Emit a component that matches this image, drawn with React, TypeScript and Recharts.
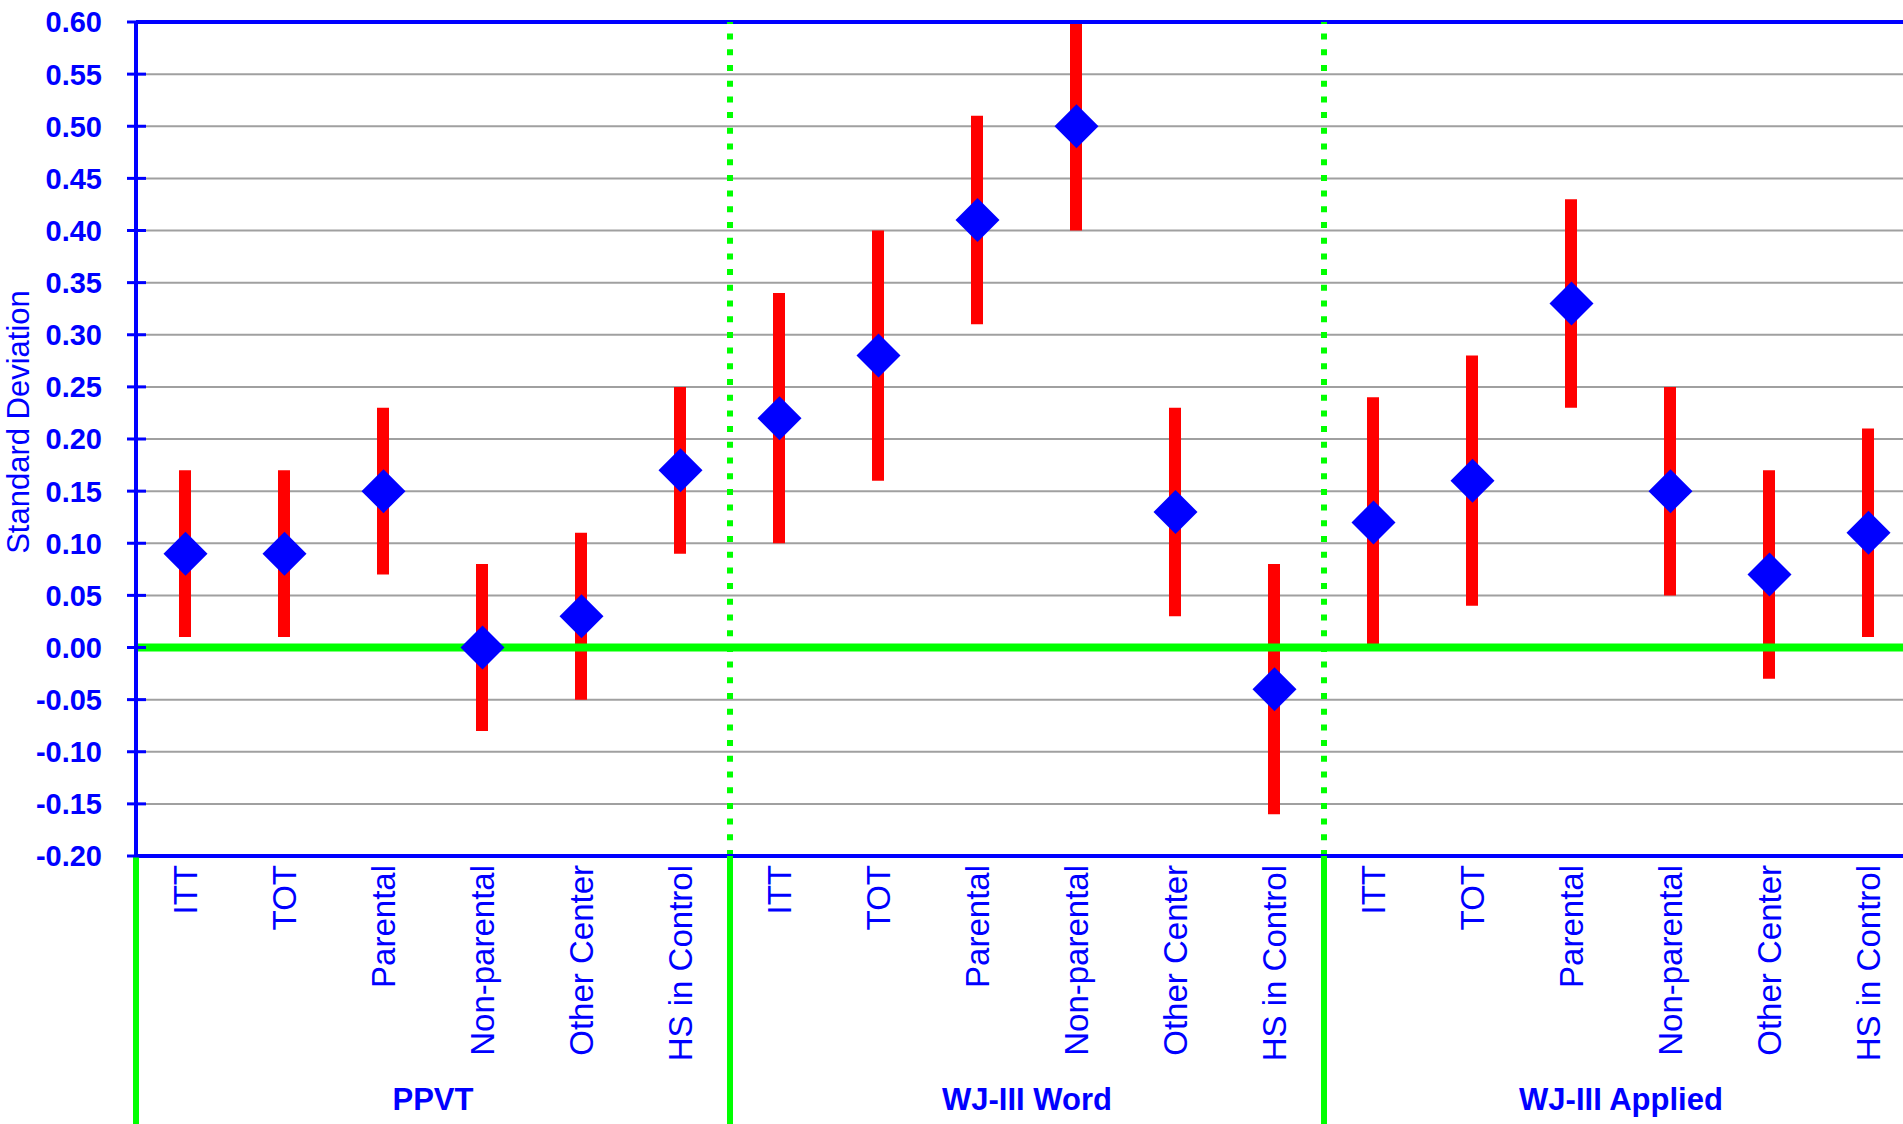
import { ComposedChart, Bar, Scatter, XAxis, YAxis, CartesianGrid, ReferenceLine } from 'recharts';

const BLUE = '#0000ff';
const RED = '#ff0000';
const GREEN = '#00ff00';
const GRID = '#a0a0a0';

const groups = ['PPVT', 'WJ-III Word', 'WJ-III Applied'];
const subgroups = ['ITT', 'TOT', 'Parental', 'Non-parental', 'Other Center', 'HS in Control'];

// effect size (point) and confidence interval per subgroup
const ppvtMean = [0.09, 0.09, 0.15, 0.0, 0.03, 0.17];
const ppvtLow = [0.01, 0.01, 0.07, -0.08, -0.05, 0.09];
const ppvtHigh = [0.17, 0.17, 0.23, 0.08, 0.11, 0.25];

const wordMean = [0.22, 0.28, 0.41, 0.5, 0.13, -0.04];
const wordLow = [0.1, 0.16, 0.31, 0.4, 0.03, -0.16];
const wordHigh = [0.34, 0.4, 0.51, 0.6, 0.23, 0.08];

const appliedMean = [0.12, 0.16, 0.33, 0.15, 0.07, 0.11];
const appliedLow = [0.0, 0.04, 0.23, 0.05, -0.03, 0.01];
const appliedHigh = [0.24, 0.28, 0.43, 0.25, 0.17, 0.21];

const yTicks = [-0.2, -0.15, -0.1, -0.05, 0, 0.05, 0.1, 0.15, 0.2, 0.25, 0.3, 0.35, 0.4, 0.45, 0.5, 0.55, 0.6];

const means = [ppvtMean, wordMean, appliedMean];
const lows = [ppvtLow, wordLow, appliedLow];
const highs = [ppvtHigh, wordHigh, appliedHigh];

const n = subgroups.length;
const total = groups.length * n;

const data = groups.flatMap((g, gi) =>
  subgroups.map((s, si) => ({
    pos: gi * n + si + 0.5,
    group: g,
    label: s,
    mean: means[gi][si],
    range: [lows[gi][si], highs[gi][si]],
  })),
);

// boundaries, group centres and category centres all go through the x scale
const xTicks = [
  ...groups.map((_, gi) => gi * n),
  total,
  ...groups.map((_, gi) => gi * n + n / 2),
  ...data.map(d => d.pos),
];

// eslint-disable-next-line @typescript-eslint/no-explicit-any
function XTick({ x, y, payload }: any) {
  const v = payload.value as number;
  if (v % n === 0) {
    return <line x1={x} y1={y} x2={x} y2={y + 280} stroke={GREEN} strokeWidth={6} />;
  }
  if (Number.isInteger(v)) {
    const g = groups[Math.floor(v / n)];
    return (
      <text x={x} y={y + 254} textAnchor="middle" fill={BLUE} fontSize={31} fontWeight="bold">
        {g}
      </text>
    );
  }
  const label = subgroups[Math.floor(v) % n];
  return (
    <text
      x={x}
      y={y + 9}
      dy="0.36em"
      transform={`rotate(-90 ${x} ${y + 9})`}
      textAnchor="end"
      fill={BLUE}
      fontSize={33}
    >
      {label}
    </text>
  );
}

// eslint-disable-next-line @typescript-eslint/no-explicit-any
function YTick({ x, y, payload }: any) {
  return (
    <g>
      <line x1={x - 9} y1={y} x2={x + 10} y2={y} stroke={BLUE} strokeWidth={3} />
      <text x={x - 34} y={y} dy="0.36em" textAnchor="end" fill={BLUE} fontSize={29} fontWeight="bold">
        {(payload.value as number).toFixed(2)}
      </text>
    </g>
  );
}

// eslint-disable-next-line @typescript-eslint/no-explicit-any
function YTitle({ viewBox }: any) {
  const x = (viewBox?.x ?? 0) + 18;
  const y = 422;
  return (
    <text
      x={x}
      y={y}
      dy="0.36em"
      transform={`rotate(-90 ${x} ${y})`}
      textAnchor="middle"
      fill={BLUE}
      fontSize={31}
    >
      Standard Deviation
    </text>
  );
}

// eslint-disable-next-line @typescript-eslint/no-explicit-any
function Diamond({ cx, cy }: any) {
  const r = 22;
  return <polygon points={`${cx},${cy - r} ${cx + r},${cy} ${cx},${cy + r} ${cx - r},${cy}`} fill={BLUE} />;
}

export default function App() {
  return (
    <div
      style={{
        position: 'absolute',
        left: 0,
        top: 0,
        width: 1903,
        height: 1124,
        overflow: 'hidden',
        background: '#fff',
        fontFamily: "'Liberation Sans', Arial, sans-serif",
      }}
    >
      <ComposedChart width={1920} height={1124} data={data} margin={{ top: 22, right: 2, bottom: 0, left: 0 }}>
        <CartesianGrid vertical={false} stroke={GRID} strokeWidth={2} />
        <XAxis
          dataKey="pos"
          type="number"
          domain={[0, total]}
          ticks={xTicks}
          interval={0}
          height={268}
          tickSize={0}
          tickMargin={0}
          tickLine={false}
          axisLine={{ stroke: BLUE, strokeWidth: 4 }}
          tick={<XTick />}
          allowDataOverflow
        />
        <YAxis
          type="number"
          domain={[-0.2, 0.6]}
          ticks={yTicks}
          interval={0}
          width={136}
          tickSize={0}
          tickMargin={0}
          tickLine={false}
          axisLine={{ stroke: BLUE, strokeWidth: 4 }}
          tick={<YTick />}
          label={<YTitle />}
          allowDataOverflow
        />
        <ReferenceLine y={0} stroke={GREEN} strokeWidth={8} />
        <ReferenceLine y={0.6} stroke={BLUE} strokeWidth={4} />
        <ReferenceLine x={n} stroke={GREEN} strokeWidth={6} strokeDasharray="6 9.7" />
        <ReferenceLine x={2 * n} stroke={GREEN} strokeWidth={6} strokeDasharray="6 9.7" />
        <Bar dataKey="range" fill={RED} barSize={12} isAnimationActive={false} />
        <Scatter dataKey="mean" fill={BLUE} shape={<Diamond />} isAnimationActive={false} />
      </ComposedChart>
    </div>
  );
}
